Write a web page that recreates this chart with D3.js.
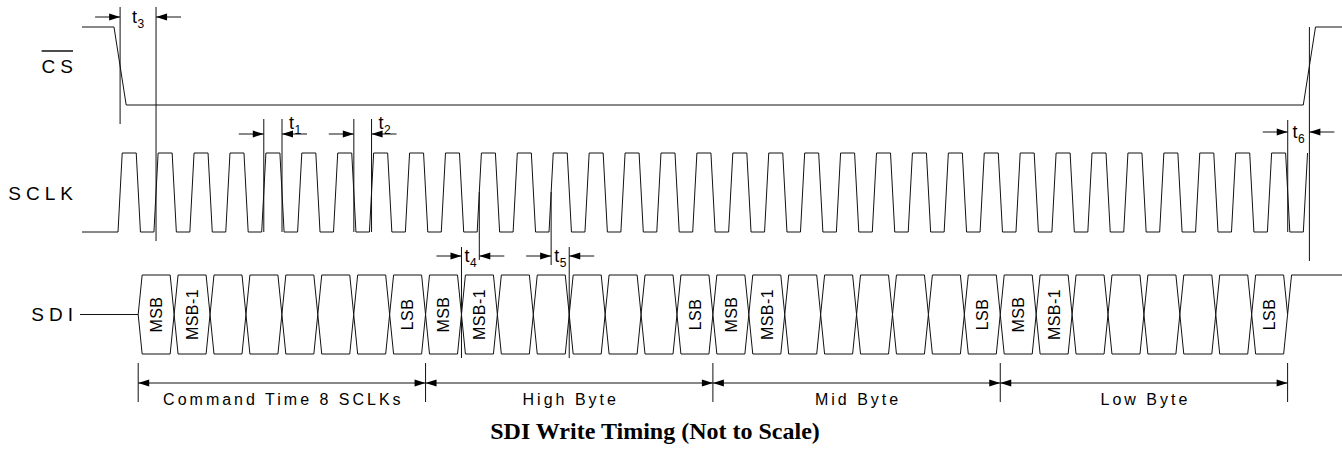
<!DOCTYPE html>
<html><head><meta charset="utf-8">
<script src="https://cdn.jsdelivr.net/npm/d3@7"></script>
<style>body{margin:0;background:#fff} svg{display:block}</style>
</head><body><svg id="c" width="1342" height="451"></svg>
<script>
// ---------------- data ----------------
const signalNames = ["CS", "SCLK", "SDI"];
const bitLabels = [
  "MSB","MSB-1","","","","","","LSB",
  "MSB","MSB-1","","","","","","LSB",
  "MSB","MSB-1","","","","","","LSB",
  "MSB","MSB-1","","","","","","LSB"
];
const byteNames = ["Command Time 8 SCLKs", "High Byte", "Mid Byte", "Low Byte"];
const byteBoundaries = [0, 8, 16, 24, 32];           // in SCLK periods
const sclkCycles = [0,1,2,3,4,5,6,7,8,9,10,11,12,13,14,15,16,17,18,19,20,21,22,23,24,25,26,27,28,29,30,31,32];
const sclkFinalRise = 33;
// waveform timing, in SCLK periods (bit cell crossing k is at time k)
const traceStart = -1.565, sdiStart = -1.62;
const csFall = -0.674, csRise = 32.437, csEdge = 0.34;
const sclkPhase = -0.562, sclkEdge = 0.117, sclkHigh = 0.39;
const sdiCrossHalf = 0.11;
const timingNames = ["t3", "t1", "t2", "t4", "t5", "t6"];
const timingSubs  = ["3", "1", "2", "4", "5", "6"];
// event references for each timing parameter [from, to]
const timingEvents = [
  [["csFall"], ["sclkRise", 1]],
  [["sclkRise", 4], ["sclkFall", 4]],
  [["sclkFall", 6], ["sclkRise", 7]],
  [["sdiCross", 9], ["sclkRise", 10]],
  [["sclkRise", 12], ["sdiCross", 12]],
  [["sclkFall", 32], ["csRise"]]
];
const titleText = "SDI Write Timing (Not to Scale)";

// ---------------- layout / style ----------------
const W = 1342, H = 451;
const svg = d3.select("#c");
const x = d3.scaleLinear().domain([0, 32]).range([138.2, 1287.6]);
const yCS = d3.scaleLinear().domain([0, 1]).range([105, 27]);
const ySCLK = d3.scaleLinear().domain([0, 1]).range([232, 153]);
const ySDI = d3.scaleLinear().domain([-1, 1]).range([354, 275]);
const stroke = "#111";
const sansFont = "Arial, 'Liberation Sans', Helvetica, sans-serif";

function eventTime(ev) {
  const [type, k] = ev;
  if (type === "csFall") return csFall + csEdge / 2;
  if (type === "csRise") return csRise + csEdge / 2;
  if (type === "sclkRise") return k + sclkPhase + sclkEdge / 2;
  if (type === "sclkFall") return k + sclkPhase + sclkEdge + sclkHigh + sclkEdge / 2;
  if (type === "sdiCross") return k;
}

const g = svg.append("g").attr("fill", "none").attr("stroke", stroke).attr("stroke-width", 1);

// CS
const csPts = [[traceStart, 1], [csFall, 1], [csFall + csEdge, 0], [csRise, 0], [csRise + csEdge, 1], [x.invert(W), 1]];
g.append("path").attr("d", d3.line().x(d => x(d[0])).y(d => yCS(d[1]))(csPts));

// SCLK
const sclkPts = [[traceStart, 0]];
sclkCycles.forEach(k => {
  const r = k + sclkPhase;
  sclkPts.push([r, 0], [r + sclkEdge, 1], [r + sclkEdge + sclkHigh, 1], [r + 2 * sclkEdge + sclkHigh, 0]);
});
sclkPts.push([sclkFinalRise + sclkPhase, 0], [sclkFinalRise + sclkPhase + sclkEdge, 1]);
g.append("path").attr("d", d3.line().x(d => x(d[0])).y(d => ySCLK(d[1]))(sclkPts));

// SDI
const lineSDI = d3.line().x(d => x(d[0])).y(d => ySDI(d[1]));
g.append("path").attr("d", lineSDI([[sdiStart, 0], [0, 0]]));
const h = sdiCrossHalf;
g.selectAll("path.cell").data(bitLabels).join("path").attr("class", "cell")
  .attr("d", (d, k) => lineSDI([[k, 0], [k + h, 1], [k + 1 - h, 1], [k + 1, 0], [k + 1 - h, -1], [k + h, -1], [k, 0]]));
const nBits = bitLabels.length;
g.append("path").attr("d", lineSDI([[nBits, 0], [nBits + h, 1], [x.invert(W), 1]]));

// bit labels
svg.append("g").selectAll("text").data(bitLabels).join("text")
  .attr("transform", (d, k) => `translate(${x(k + 0.5)},${ySDI(0)}) rotate(-90)`)
  .attr("text-anchor", "middle").attr("dy", "0.36em")
  .attr("font-family", sansFont).attr("font-size", 16).attr("letter-spacing", 0.4)
  .attr("fill", "#000").text(d => d);

// signal labels
const sigY = [72.7, 199.5, 321];
const sigLS = 5;
const sigText = svg.append("g").selectAll("text").data(signalNames).join("text")
  .attr("x", 73 + sigLS).attr("y", (d, i) => sigY[i]).attr("text-anchor", "end")
  .attr("font-family", sansFont).attr("font-size", 19).attr("letter-spacing", sigLS)
  .attr("fill", "#000").text(d => d);
// overbar on CS
const csNode = sigText.filter(d => d === "CS").node();
const bb = csNode.getBBox();
g.append("line").attr("x1", bb.x).attr("x2", bb.x + bb.width - sigLS).attr("y1", 51).attr("y2", 51).attr("stroke-width", 1.5);

// timing annotations
const tLayout = {
  t3: {l: [7, 124], r: [7, 241], ay: 17, pos: "center"},
  t1: {l: [119, 232], r: [119, 232], ay: 134, pos: "right"},
  t2: {l: [119, 232], r: [119, 232], ay: 134, pos: "right"},
  t4: {l: [247, 358], r: [192, 260], ay: 256, pos: "center"},
  t5: {l: [192, 265], r: [247, 358], ay: 256, pos: "center"},
  t6: {l: [120, 232], r: [27, 261], ay: 132, pos: "center"}
};
const arrowLen = 25, headL = 11, headW = 3.5;
const ann = svg.append("g");
timingNames.forEach((name, i) => {
  const L = tLayout[name];
  const xl = x(eventTime(timingEvents[i][0])), xr = x(eventTime(timingEvents[i][1]));
  const a = ann.append("g");
  a.append("line").attr("x1", xl).attr("x2", xl).attr("y1", L.l[0]).attr("y2", L.l[1]).attr("stroke", stroke);
  a.append("line").attr("x1", xr).attr("x2", xr).attr("y1", L.r[0]).attr("y2", L.r[1]).attr("stroke", stroke);
  a.append("line").attr("x1", xl - arrowLen).attr("x2", xl).attr("y1", L.ay).attr("y2", L.ay).attr("stroke", stroke);
  a.append("line").attr("x1", xr).attr("x2", xr + arrowLen).attr("y1", L.ay).attr("y2", L.ay).attr("stroke", stroke);
  a.append("path").attr("fill", "#000").attr("d", `M${xl},${L.ay}L${xl - headL},${L.ay - headW}L${xl - headL},${L.ay + headW}Z`);
  a.append("path").attr("fill", "#000").attr("d", `M${xr},${L.ay}L${xr + headL},${L.ay - headW}L${xr + headL},${L.ay + headW}Z`);
  const center = L.pos === "center";
  const lx = center ? (xl + xr) / 2 - 6 : xr + 7;
  const ly = center ? L.ay + 6 : L.ay - 5;
  const t = a.append("text").attr("x", lx).attr("y", ly).attr("font-family", sansFont).attr("font-size", 18).attr("fill", "#000");
  t.append("tspan").text("t");
  t.append("tspan").attr("font-size", 12).attr("dy", 5).attr("dx", 0.5).text(timingSubs[i]);
});

// byte dimension lines
const dimY = 383;
const dim = svg.append("g");
byteBoundaries.forEach(b => {
  dim.append("line").attr("x1", x(b)).attr("x2", x(b)).attr("y1", 363).attr("y2", 402).attr("stroke", stroke);
});
byteNames.forEach((name, i) => {
  const x0 = x(byteBoundaries[i]), x1 = x(byteBoundaries[i + 1]);
  dim.append("line").attr("x1", x0).attr("x2", x1).attr("y1", dimY).attr("y2", dimY).attr("stroke", stroke);
  dim.append("path").attr("fill", "#000").attr("d", `M${x0},${dimY}L${x0 + headL},${dimY - headW}L${x0 + headL},${dimY + headW}Z`);
  dim.append("path").attr("fill", "#000").attr("d", `M${x1},${dimY}L${x1 - headL},${dimY - headW}L${x1 - headL},${dimY + headW}Z`);
  dim.append("text").attr("x", (x0 + x1) / 2 + 1.5).attr("y", 405).attr("text-anchor", "middle")
    .attr("font-family", sansFont).attr("font-size", 16).attr("letter-spacing", 3).attr("fill", "#000").text(name);
});

// title
svg.append("text").attr("x", 655).attr("y", 439).attr("text-anchor", "middle")
  .attr("font-family", "'Liberation Serif', 'Times New Roman', serif").attr("font-weight", "bold")
  .attr("font-size", 24).attr("fill", "#000").text(titleText);
</script>
</body></html>
